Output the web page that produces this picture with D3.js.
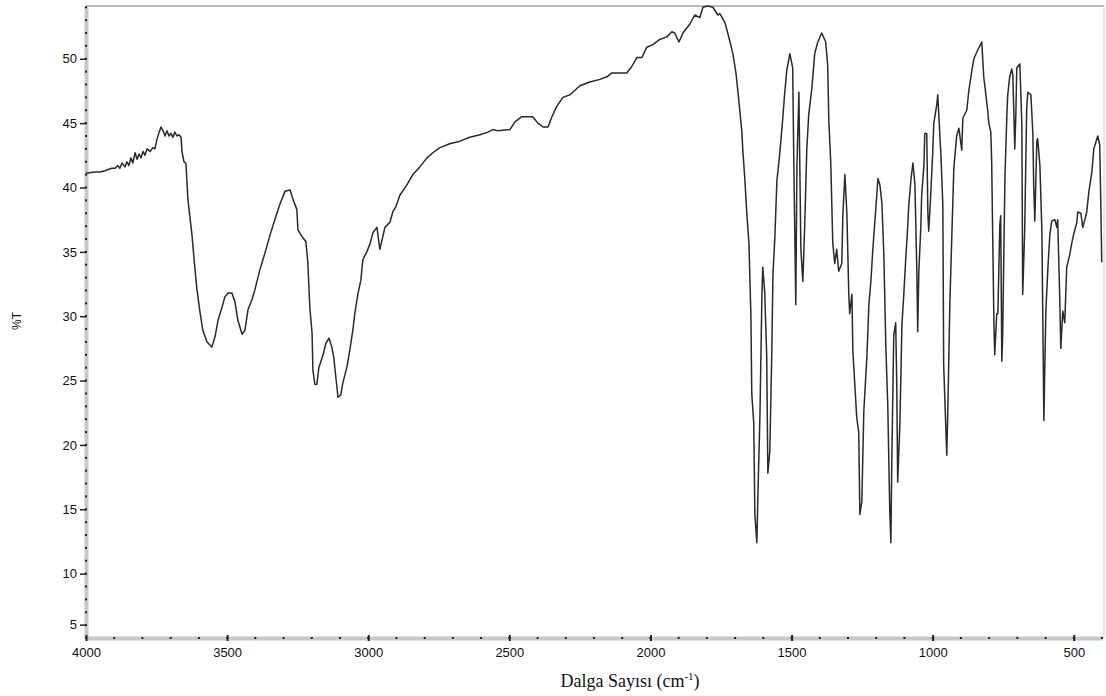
<!DOCTYPE html>
<html>
<head>
<meta charset="utf-8">
<script src="https://cdn.jsdelivr.net/npm/d3@7"></script>
<style>
	body { margin: 0; background: #fff; }
	svg text { font-family: "Liberation Sans", Arial, sans-serif; }
</style>
</head>
<body>
<svg id="chart" width="1106" height="696"></svg>
<script>
// IR spectrum, [wavenumber cm-1, %T]
var highRegion = [[4000,41.1],[3968,41.2],[3950,41.2],[3933,41.3],[3922,41.4],[3908,41.5],[3897,41.5],[3887,41.7],[3880,41.5],[3872,41.9],
	[3862,41.6],[3855,42.0],[3848,41.7],[3841,42.3],[3834,41.9],[3826,42.7],[3819,42.2],[3812,42.6],[3805,42.3],[3798,42.8],
	[3791,42.5],[3784,43.0],[3773,42.8],[3763,43.1],[3756,43.0],[3749,43.7],[3741,44.3],[3734,44.7],[3727,44.4],[3720,44.0],
	[3713,44.4],[3706,44.0],[3699,44.2],[3692,43.9],[3685,44.3],[3678,44.0],[3671,44.1],[3663,43.9],[3660,42.8],[3653,42.0],[3646,41.9]];

var stretchRegion = [[3639,39.1],[3624,36.2],[3617,34.4],[3607,32.1],[3596,30.3],[3586,28.9],[3571,28.0],[3554,27.6],[3543,28.4],[3532,29.7],
	[3518,30.7],[3508,31.5],[3497,31.8],[3483,31.8],[3472,31.1],[3462,29.7],[3447,28.6],[3437,28.9],[3426,30.5],[3412,31.3],
	[3401,32.1],[3384,33.6],[3366,34.9],[3348,36.3],[3331,37.5],[3313,38.7],[3295,39.7],[3277,39.8],[3267,39.1],[3253,38.3],
	[3249,36.7],[3235,36.2],[3221,35.8],[3214,34.2],[3207,30.7],[3199,28.7],[3196,25.8],[3189,24.7],[3182,24.7],[3175,26.0],
	[3160,27.0],[3150,27.9],[3139,28.3],[3129,27.6],[3122,26.8],[3114,25.1],[3107,23.7],[3097,23.9],[3090,24.8],[3075,26.1],
	[3065,27.4],[3054,29.0],[3047,30.3],[3036,31.8],[3026,32.8],[3019,34.4],[3005,35.0],[2994,35.6],[2983,36.5],[2969,36.9],
	[2959,35.2],[2948,36.2],[2941,36.9],[2923,37.3],[2913,38.1],[2902,38.5],[2888,39.4]];

var midRegion = [[2863,40.2],[2842,41.0],[2817,41.6],[2792,42.3],[2771,42.7],[2746,43.1],[2711,43.4],[2675,43.6],[2640,43.9],[2604,44.1],
	[2576,44.3],[2558,44.5],[2541,44.4],[2498,44.5],[2480,45.1],[2456,45.5],[2417,45.5],[2399,45.0],[2381,44.7],[2363,44.7],
	[2349,45.5],[2332,46.3],[2310,47.0],[2285,47.2],[2250,47.9],[2215,48.2],[2179,48.4],[2154,48.6],[2137,48.9],[2115,48.9],
	[2084,48.9],[2066,49.4],[2048,50.1],[2030,50.1],[2013,50.9],[1991,51.1],[1967,51.5],[1942,51.7],[1924,52.1],[1914,52.0],
	[1899,51.3],[1885,52.0],[1860,52.7],[1843,53.4],[1825,53.2],[1814,54.0],[1797,54.1],[1779,54.0],[1761,53.4]];

var fingerprint = [[1754,53.5],[1736,52.8],[1726,52.0],[1708,50.4],[1697,48.9],[1687,46.8],[1676,44.3],[1673,43.0],[1666,40.8],[1658,37.8],
	[1651,35.7],[1644,30.0],[1641,24.0],[1634,21.7],[1630,14.6],[1623,12.4],[1619,16.3],[1612,22.3],[1605,31.7],[1602,33.8],
	[1595,31.8],[1588,26.9],[1584,17.8],[1577,19.5],[1570,27.2],[1566,33.2],[1559,36.2],[1552,40.5],[1542,42.6],[1534,44.6],
	[1524,47.4],[1517,49.1],[1506,50.4],[1496,49.3],[1492,41.9],[1485,30.9],[1481,41.6],[1474,47.4],[1467,35.2],[1460,32.7],
	[1453,37.3],[1446,43.0],[1439,45.7],[1428,47.7],[1418,50.4],[1407,51.3],[1393,52.0],[1379,51.3],[1372,49.5],[1368,45.2],
	[1361,41.9],[1354,35.7],[1347,34.1],[1340,35.2],[1333,33.5],[1322,34.1],[1318,38.0],[1311,41.0],[1304,38.0],[1297,31.6],
	[1294,30.2],[1286,31.7],[1283,27.4],[1269,22.1],[1262,21.0],[1258,14.6],[1251,15.6],[1244,22.6],[1233,26.9],[1226,30.9],
	[1219,32.7],[1212,35.2],[1201,38.5],[1194,40.7],[1187,40.2],[1180,38.8],[1173,34.8],[1166,27.7],[1159,23.0],[1152,14.9],
	[1148,12.4],[1145,18.5],[1138,28.5],[1131,29.5],[1127,24.4],[1124,17.1],[1116,21.7],[1109,29.3],[1102,31.8],[1095,34.6],
	[1088,37.1],[1085,38.5],[1077,40.6],[1070,41.9],[1063,40.3],[1056,33.4],[1053,28.8],[1049,33.5],[1042,36.9],[1039,39.4],
	[1031,41.7],[1028,44.2],[1021,44.2],[1017,38.0],[1014,36.6],[1007,39.4],[1000,42.6],[996,45.0],[985,46.5],[982,47.2],
	[971,42.6],[964,38.7],[961,26.2],[950,19.2],[946,23.0],[939,31.1],[932,36.3],[925,41.5],[915,44.0],[907,44.6],
	[897,42.9],[893,45.4],[879,46.0],[872,47.5],[861,49.1],[854,50.0],[840,50.7],[826,51.3],[819,48.6],[805,46.0],
	[801,45.0],[794,44.3],[791,42.1],[783,29.5],[780,27.0],[773,30.2],[769,30.2],[762,37.1],[759,37.8],[755,26.5],
	[752,28.5],[744,40.7],[737,45.7],[734,47.2],[727,48.6],[720,49.2],[716,48.8],[709,43.0],[705,45.9],[702,49.3],
	[691,49.6],[684,44.9],[681,31.7],[674,36.6],[667,46.0],[663,47.4],[652,47.2],[645,44.2],[642,40.1],[638,37.4],
	[631,43.6],[628,43.8],[620,41.7],[613,36.6],[610,30.4],[606,21.9],[599,30.4],[592,33.6],[585,36.3],[578,37.4],
	[567,37.5],[560,36.9],[557,37.5],[550,31.7],[546,27.5],[539,30.4],[532,29.5],[525,33.8],[514,34.8],[507,35.7],
	[500,36.4],[489,37.3],[486,38.1],[475,38.0],[468,36.9],[461,37.5],[454,38.1],[447,39.6],[436,41.2],[429,43.0],
	[422,43.5],[415,44.0],[408,43.3],[404,38.5],[401,34.2]];

var xTicks = [4000, 3500, 3000, 2500, 2000, 1500, 1000, 500];
var yTicks = [5, 10, 15, 20, 25, 30, 35, 40, 45, 50];
var xTitle = "Dalga Sayısı (cm";
var yTitle = "%T";

var spectrum = highRegion.concat(stretchRegion, midRegion, fingerprint);

var svg = d3.select("#chart");
var x = d3.scaleLinear().domain([4000, 400]).range([86, 1102]);
var y = d3.scaleLinear().domain([5, 54.1]).range([638, 6]);

// frame: top and right lines
svg.append("line").attr("x1", 86).attr("x2", 1104).attr("y1", 6).attr("y2", 6)
	.attr("stroke", "#b8b8b8").attr("stroke-width", 2);
svg.append("line").attr("x1", 1104).attr("x2", 1104).attr("y1", 6).attr("y2", 638)
	.attr("stroke", "#e2e2e2").attr("stroke-width", 1.5);

// y axis
var yAxis = svg.append("g").attr("transform", "translate(86,0)")
	.call(d3.axisLeft(y).tickValues(yTicks).tickSize(6).tickSizeOuter(0).tickPadding(3));
yAxis.select(".domain").attr("stroke", "#c8c8c8").attr("stroke-width", 4);
yAxis.selectAll(".tick line").attr("stroke", "#222").attr("stroke-width", 1.5);
yAxis.selectAll(".tick text").attr("font-size", 13).attr("fill", "#111");
// the bottom label sits one step up in the original plot
yAxis.selectAll(".tick").filter(function (d) { return d === 5; })
	.attr("transform", "translate(0," + y(6) + ")");

// x axis
var xAxis = svg.append("g").attr("transform", "translate(0,638)")
	.call(d3.axisBottom(x).tickValues(xTicks).tickSize(3).tickSizeOuter(0).tickPadding(7).tickFormat(d3.format("d")));
xAxis.select(".domain").attr("stroke", "#c8c8c8").attr("stroke-width", 4);
xAxis.selectAll(".tick line").attr("stroke", "#222").attr("stroke-width", 2).attr("y1", -3);
xAxis.selectAll(".tick text").attr("font-size", 13).attr("fill", "#111");

// minor tick dots on the axis bars
svg.append("g").selectAll("rect").data(d3.range(6, 55)).join("rect")
	.attr("x", 85).attr("y", function (d) { return y(d) - 1; })
	.attr("width", 2).attr("height", 2).attr("fill", "#222");
svg.append("g").selectAll("rect").data(d3.range(400, 4001, 100)).join("rect")
	.attr("x", function (d) { return x(d) - 1; }).attr("y", 637)
	.attr("width", 2).attr("height", 2).attr("fill", "#222");

// spectrum trace
var line = d3.line()
	.x(function (d) { return x(d[0]); })
	.y(function (d) { return y(d[1]); });
svg.append("path").datum(spectrum)
	.attr("d", line)
	.attr("fill", "none")
	.attr("stroke", "#2a2a2a")
	.attr("stroke-width", 1.5)
	.attr("stroke-linejoin", "round");

// titles
var xt = svg.append("text")
	.attr("x", 630).attr("y", 687)
	.attr("text-anchor", "middle")
	.style("font-family", "'Liberation Serif', 'Times New Roman', serif")
	.attr("font-size", 18).attr("fill", "#111")
	.text(xTitle);
xt.append("tspan").attr("dy", -7).attr("font-size", 11).text("-1");
xt.append("tspan").attr("dy", 7).text(")");

svg.append("text")
	.attr("transform", "translate(21,321) rotate(-90)")
	.attr("text-anchor", "middle")
	.attr("font-size", 12).attr("fill", "#111")
	.text(yTitle);
</script>
</body>
</html>
